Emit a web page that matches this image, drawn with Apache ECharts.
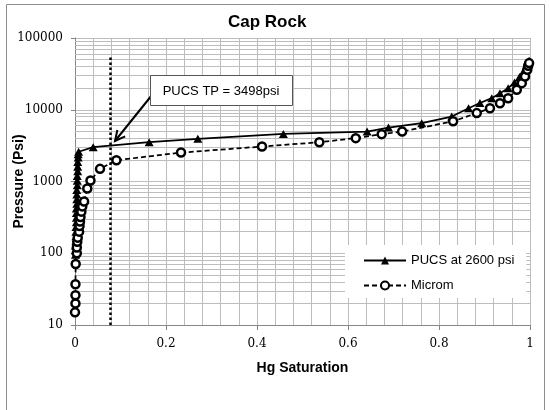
<!DOCTYPE html>
<html><head><meta charset="utf-8">
<script src="https://cdn.jsdelivr.net/npm/echarts@6/dist/echarts.min.js"></script>
<style>html,body{margin:0;padding:0;background:#fff}#c{width:550px;height:410px}</style>
</head><body><div id="c"></div>
<script>
const chartTitle = 'Cap Rock';
const xAxisTitle = 'Hg Saturation';
const yAxisTitle = 'Pressure (Psi)';
const seriesNames = ['PUCS at 2600 psi', 'Microm'];

const pucsSat = [0.001, 0.001, 0.001, 0.002, 0.002, 0.002, 0.002, 0.003, 0.003, 0.003, 0.003, 0.004, 0.004, 0.004, 0.004, 0.005, 0.005, 0.005, 0.006, 0.006, 0.006, 0.007, 0.007, 0.008,
  0.040, 0.163, 0.270, 0.458, 0.642, 0.689, 0.762, 0.828, 0.865, 0.890, 0.916, 0.934, 0.952, 0.966, 0.977, 0.985, 0.991, 0.995, 0.998];
const pucsP = [95, 110, 128, 148, 172, 200, 232, 270, 313, 363, 421, 489, 567, 658, 764, 886, 1028, 1193, 1384, 1606, 1863, 2162, 2400, 2600,
  3010, 3530, 3930, 4610, 4970, 5650, 6500, 8040, 10500, 12400, 14500, 17000, 20000, 24000, 28500, 33500, 39000, 44000, 48000];

const micromSat = [0.000, 0.001, 0.001, 0.001, 0.0015, 0.004, 0.004, 0.005, 0.006, 0.009, 0.010, 0.011, 0.012, 0.014, 0.016, 0.020, 0.027, 0.034, 0.055, 0.091,
  0.233, 0.411, 0.537, 0.617, 0.674, 0.719, 0.831, 0.883, 0.912, 0.934, 0.952, 0.971, 0.982, 0.989, 0.994, 0.996, 0.998];
const micromP = [15, 20, 26, 37, 71, 100, 120, 145, 165, 200, 240, 277, 320, 380, 450, 525, 800, 1030, 1500, 1980,
  2530, 3070, 3530, 4020, 4570, 4970, 6900, 8980, 10500, 12300, 14500, 19000, 23500, 29000, 36000, 41000, 44700];

const tpSaturation = 0.077;
const tpLineRange = [10, 55000];
const annotationText = 'PUCS TP = 3498psi';
const xTicks = [0, 0.2, 0.4, 0.6, 0.8, 1];
const yDecades = [10, 100, 1000, 10000, 100000];
const minorSteps = [2, 3, 4, 5, 6, 7, 8, 9];

const minorY = [];
yDecades.slice(0, -1).forEach(d => minorSteps.forEach(m => minorY.push(d * m)));

const chart = echarts.init(document.getElementById('c'), null, {renderer: 'canvas'});

// arrow geometry (annotation)
const aStart = [152, 95], aTip = [115, 141];
const dx = aTip[0] - aStart[0], dy = aTip[1] - aStart[1];
const L = Math.hypot(dx, dy), ux = dx / L, uy = dy / L;
const hl = 10, hw = 5;
const head = [
  [aTip[0] - ux * hl + uy * hw, aTip[1] - uy * hl - ux * hw],
  aTip,
  [aTip[0] - ux * hl - uy * hw, aTip[1] - uy * hl + ux * hw]
];

const gridColor = '#bdbdbd';
const axisColor = '#868686';

const option = {
  animation: false,
  backgroundColor: '#fff',
  title: {
    text: chartTitle, left: 228, top: 14, padding: 0,
    textStyle: {fontFamily: 'Liberation Sans', fontWeight: 'bold', fontSize: 17, color: '#000'}
  },
  legend: {
    data: seriesNames, orient: 'vertical', left: 345, top: 245,
    padding: [9, 12, 6, 18], itemGap: 12, itemWidth: 42, itemHeight: 10,
    backgroundColor: '#fff', borderWidth: 0,
    textStyle: {fontFamily: 'Liberation Sans', fontSize: 13, color: '#000'}
  },
  grid: {left: 75, right: 20, top: 38, bottom: 85, containLabel: false, outerBoundsMode: 'none'},
  xAxis: {
    type: 'value', min: xTicks[0], max: xTicks[xTicks.length - 1], interval: 0.2,
    name: xAxisTitle, nameLocation: 'middle', nameGap: 36, nameMoveOverlap: false,
    nameTextStyle: {fontFamily: 'Liberation Sans', fontWeight: 'bold', fontSize: 14, color: '#000'},
    axisLine: {show: true, onZero: false, lineStyle: {color: axisColor}},
    axisTick: {show: true, length: 5, lineStyle: {color: axisColor}},
    minorTick: {show: false, splitNumber: 5},
    splitLine: {show: true, lineStyle: {color: gridColor, width: 1}},
    minorSplitLine: {show: true, lineStyle: {color: gridColor, width: 1}},
    axisLabel: {fontFamily: 'DejaVu Serif', fontSize: 12, color: '#000', margin: 13}
  },
  yAxis: {
    type: 'log', logBase: 10, min: yDecades[0], max: yDecades[yDecades.length - 1],
    name: yAxisTitle, nameLocation: 'middle', nameGap: 49, nameRotate: 90, nameMoveOverlap: false,
    nameTextStyle: {fontFamily: 'Liberation Sans', fontWeight: 'bold', fontSize: 14, color: '#000'},
    axisLine: {show: true, lineStyle: {color: axisColor}},
    axisTick: {show: true, length: 4, lineStyle: {color: axisColor}},
    splitLine: {show: true, lineStyle: {color: gridColor, width: 1}},
    axisLabel: {fontFamily: 'DejaVu Serif', fontSize: 12, color: '#000', margin: 12,
      formatter: v => String(Math.round(v))}
  },
  series: [
    {
      name: '__grid', type: 'line', data: [], silent: true, z: 1,
      markLine: {
        silent: true, z: 1, symbol: ['none', 'none'], label: {show: false},
        lineStyle: {color: gridColor, width: 1, type: 'solid'},
        emphasis: {disabled: true},
        data: minorY.map(v => ({yAxis: v}))
      }
    },
    {
      name: '__tp', type: 'line', data: [], silent: true, z: 3,
      markLine: {
        silent: true, z: 3, symbol: ['none', 'none'], label: {show: false},
        lineStyle: {color: '#000', width: 2.5, type: [2.5, 2.5]},
        emphasis: {disabled: true},
        data: [[{coord: [tpSaturation, tpLineRange[0]]}, {coord: [tpSaturation, tpLineRange[1]]}]]
      }
    },
    {
      name: seriesNames[0], type: 'line', z: 4,
      data: pucsSat.map((s, i) => [s, pucsP[i]]),
      symbol: 'triangle', symbolSize: [9, 8], showAllSymbol: true,
      itemStyle: {color: '#000'},
      lineStyle: {color: '#000', width: 1.75}
    },
    {
      name: seriesNames[1], type: 'line', z: 5,
      data: micromSat.map((s, i) => [s, micromP[i]]),
      symbol: 'circle', symbolSize: 8, showAllSymbol: true,
      itemStyle: {color: '#fff', borderColor: '#000', borderWidth: 2.5},
      lineStyle: {color: '#000', width: 1.75, type: [5, 3]}
    }
  ],
  graphic: [
    {type: 'rect', z: 0, silent: true, shape: {x: 6.5, y: 4.5, width: 538, height: 420},
      style: {fill: 'none', stroke: '#8c8c8c', lineWidth: 1}},
    {type: 'polyline', z: 20, silent: true, shape: {points: [aStart, aTip]},
      style: {stroke: '#000', lineWidth: 2, fill: 'none'}},
    {type: 'polyline', z: 20, silent: true, shape: {points: head},
      style: {stroke: '#000', lineWidth: 2, fill: 'none'}},
    {type: 'rect', z: 20, silent: true, shape: {x: 150.5, y: 75.5, width: 142, height: 30},
      style: {fill: '#fff', stroke: '#555', lineWidth: 1}},
    {type: 'text', z: 21, silent: true, x: 221, y: 91,
      style: {text: annotationText, fill: '#000', fontFamily: 'Liberation Sans', fontSize: 13,
        align: 'center', verticalAlign: 'middle', textAlign: 'center', textVerticalAlign: 'middle'}}
  ]
};
chart.setOption(option);
</script>
</body></html>
